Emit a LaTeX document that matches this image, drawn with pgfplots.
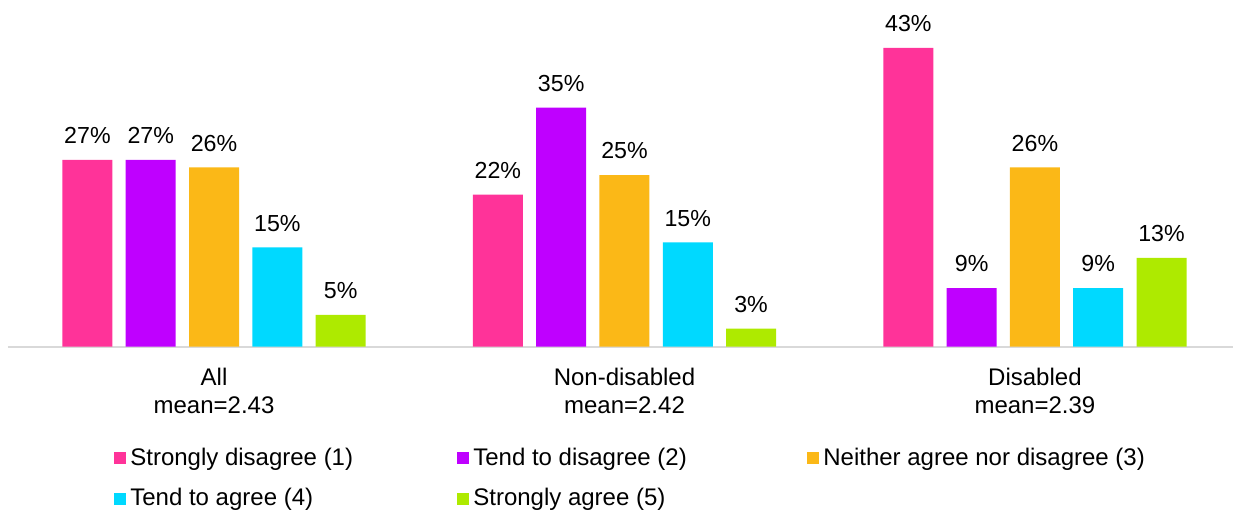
\documentclass[border=0pt]{standalone}
\usepackage{fontspec}
\setmainfont{Liberation Sans}
\usepackage{pgfplots}
\pgfplotsset{compat=1.18}
\usetikzlibrary{calc}
\definecolor{cPink}{HTML}{FF3399}
\definecolor{cPurple}{HTML}{BF00FF}
\definecolor{cOrange}{HTML}{FBB817}
\definecolor{cCyan}{HTML}{00D9FF}
\definecolor{cLime}{HTML}{AEEA00}
\begin{document}
\begin{tikzpicture}
\begin{axis}[
  width=612.5pt, height=173.35pt, scale only axis,
  ybar=6.65pt, bar width=25pt,
  xmin=-0.502, xmax=2.4826,
  ymin=0, ymax=49.9,
  axis y line=none,
  axis x line*=bottom,
  x axis line style={-, draw=black!15, line width=1pt},
  xtick={0,1,2},
  xticklabels={{All\\mean=2.43},{Non-disabled\\mean=2.42},{Disabled\\mean=2.39}},
  xticklabel style={align=center, anchor=north, inner sep=0pt, font=\fontsize{12}{13.8}\selectfont, yshift=-10.5pt},
  major tick length=0pt,
  clip=false,
  point meta=explicit symbolic,
  nodes near coords={\pgfplotspointmeta\%},
  every node near coord/.append style={font=\fontsize{11.6}{13}\selectfont, black, anchor=south, inner sep=0pt, yshift=7.8pt},
  legend columns=3,
  legend cell align=left,
  legend style={draw=none, fill=none, at={(0.0816,0)}, anchor=north west, yshift=-46.5pt,
    font=\fontsize{12}{14}\selectfont, row sep=6pt,
    /tikz/every even column/.append style={column sep=0pt}},
  legend image code/.code={\fill[#1] (0pt,-3pt) rectangle (6pt,3pt);},
]
\addplot[fill=cPink, draw=none] coordinates {(0,26.9)[27] (1,21.9)[22] (2,43)[43]};
\addplot[fill=cPurple, draw=none] coordinates {(0,26.9)[27] (1,34.4)[35] (2,8.45)[9]};
\addplot[fill=cOrange, draw=none] coordinates {(0,25.8)[26] (1,24.7)[25] (2,25.8)[26]};
\addplot[fill=cCyan, draw=none] coordinates {(0,14.3)[15] (1,15.0)[15] (2,8.45)[9]};
\addplot[fill=cLime, draw=none] coordinates {(0,4.6)[5] (1,2.6)[3] (2,12.8)[13]};
\addlegendentry{\makebox[161.5pt][l]{Strongly disagree (1)}}
\addlegendentry{\makebox[165pt][l]{Tend to disagree (2)}}
\addlegendentry{\makebox[158pt][l]{Neither agree nor disagree (3)}}
\addlegendentry{\makebox[161.5pt][l]{Tend to agree (4)}}
\addlegendentry{\makebox[165pt][l]{Strongly agree (5)}}
\coordinate (SW) at (rel axis cs:0,0);
\coordinate (NE) at (rel axis cs:1,1);
\end{axis}
\pgfresetboundingbox
\path[use as bounding box] ($(SW)+(-4pt,-82.15pt)$) rectangle (NE);
\end{tikzpicture}
\end{document}
